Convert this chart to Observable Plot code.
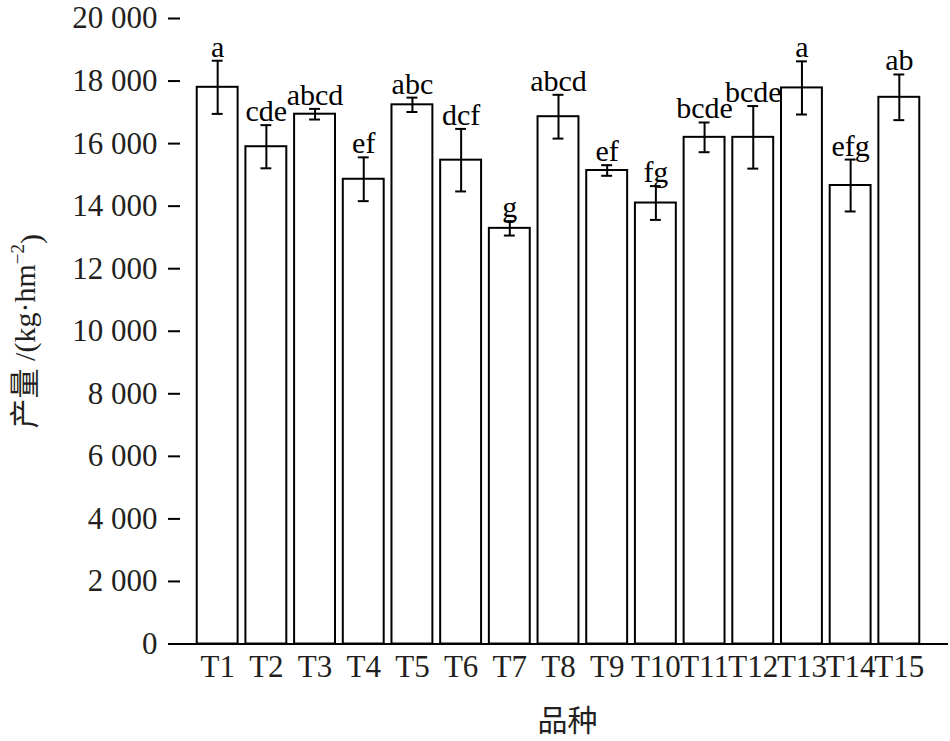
<!DOCTYPE html>
<html>
<head>
<meta charset="utf-8">
<script src="https://cdn.jsdelivr.net/npm/d3@7"></script>
<script src="https://cdn.jsdelivr.net/npm/@observablehq/plot@0.6"></script>
<style>
  html, body { margin: 0; padding: 0; background: #fff; }
  svg { font-family: "Liberation Serif", "Noto Sans CJK SC", serif; }
</style>
</head>
<body>
<div id="chart"></div>
<script>
const categories = ["T1","T2","T3","T4","T5","T6","T7","T8","T9","T10","T11","T12","T13","T14","T15"];
const yields = [17800, 15900, 16940, 14860, 17240, 15470, 13290, 16860, 15140, 14100, 16200, 16200, 17780, 14660, 17480];
const errors = [850, 690, 170, 700, 230, 1000, 230, 700, 170, 540, 475, 1000, 850, 830, 730];
const letters = ["a","cde","abcd","ef","abc","dcf","g","abcd","ef","fg","bcde","bcde","a","efg","ab"];
const yTicks = [0, 2000, 4000, 6000, 8000, 10000, 12000, 14000, 16000, 18000, 20000];
const xTitle = "品种";
const yTitle = "产量 /(kg·hm-2)";

const data = categories.map((c, i) => ({
  cat: c, y: yields[i], lo: yields[i] - errors[i], hi: yields[i] + errors[i], letter: letters[i]
}));

const fmt = d => d3.format(",")(d).replace(/,/g, " ");

const chart = Plot.plot({
  width: 950,
  height: 741,
  marginLeft: 168,
  marginRight: 2,
  marginTop: 18,
  marginBottom: 97.5,
  style: { fontFamily: '"Liberation Serif", "Noto Sans CJK SC", serif', color: "#231f20", background: "#fff" },
  x: { type: "band", domain: categories, paddingInner: 0.16, paddingOuter: 0.59, round: false },
  y: { domain: [0, 20000] },
  marks: [
    Plot.barY(data, { x: "cat", y: "y", fill: "white", stroke: "black", strokeWidth: 2 }),
    Plot.ruleX(data, { x: "cat", y1: "lo", y2: "hi", stroke: "black", strokeWidth: 2 }),
    Plot.tickY(data, { x: "cat", y: "hi", stroke: "black", strokeWidth: 2, insetLeft: 15, insetRight: 15 }),
    Plot.tickY(data, { x: "cat", y: "lo", stroke: "black", strokeWidth: 2, insetLeft: 15, insetRight: 15 }),
    Plot.text(data, { x: "cat", y: "hi", text: "letter", lineAnchor: "bottom", dy: -4, fontSize: 30, fill: "black" }),
    Plot.tickY(yTicks, { y: d => d, stroke: "black", strokeWidth: 2, insetRight: 768 }),
    Plot.ruleY([0], { stroke: "black", strokeWidth: 2 }),
    Plot.axisY({
      ticks: yTicks, tickSize: 0, tickPadding: 11, tickFormat: fmt, fontSize: 31,
      line: true, stroke: "black", strokeWidth: 2,
      label: yTitle, labelAnchor: "center", labelArrow: "none", labelOffset: 155
    }),
    Plot.axisX({
      tickSize: 0, tickPadding: 11, fontSize: 31,
      label: xTitle, labelAnchor: "center", labelArrow: "none", labelOffset: 87
    })
  ]
});

document.getElementById("chart").appendChild(chart);

// superscript on the y title, and font sizes of axis titles
d3.select(chart).selectAll("text").each(function () {
  const t = this.textContent;
  if (t === yTitle) {
    const sel = d3.select(this).style("font-size", "30px");
    sel.text(null);
    sel.append("tspan").text("产量 /(kg·hm");
    sel.append("tspan").attr("dy", "-0.55em").style("font-size", "19px").text("−2");
    sel.append("tspan").attr("dy", "0.55em").text(")");
  } else if (t === xTitle) {
    d3.select(this).style("font-size", "30px").attr("dx", 9);
  }
});
</script>
</body>
</html>
